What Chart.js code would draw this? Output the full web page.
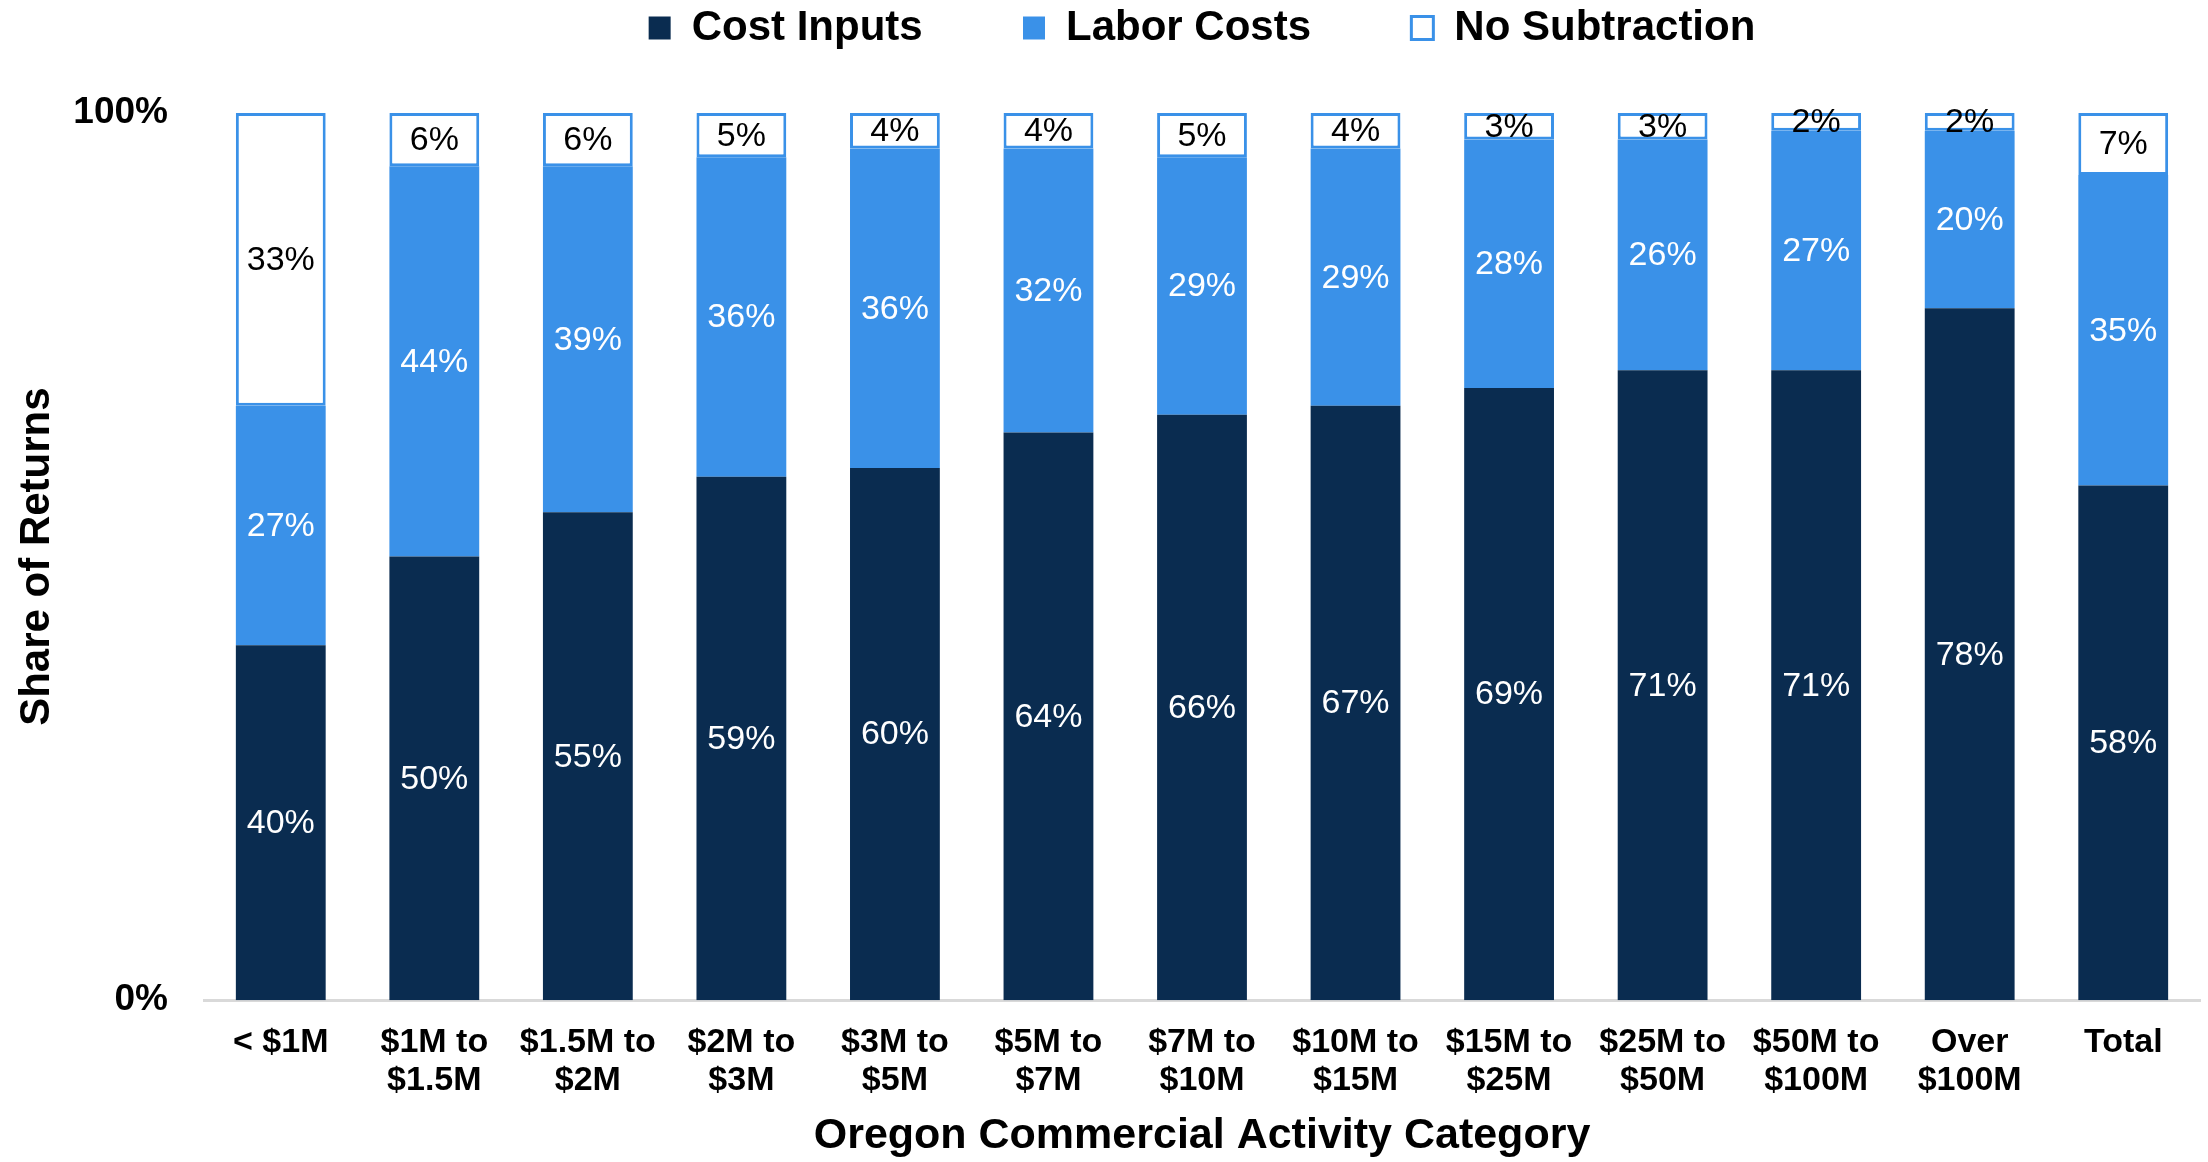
<!DOCTYPE html>
<html>
<head>
<meta charset="utf-8">
<script src="https://cdn.jsdelivr.net/npm/chart.js@4/dist/chart.umd.min.js"></script>
<style>
    body { margin: 0; background: #ffffff; }
    #wrap { width: 2208px; height: 1162px; }
</style>
</head>
<body>
<div id="wrap"><canvas id="shareChart" width="2208" height="1162"></canvas></div>
<script>
const categories = [
    '< $1M', ['$1M to', '$1.5M'], ['$1.5M to', '$2M'], ['$2M to', '$3M'], ['$3M to', '$5M'],
    ['$5M to', '$7M'], ['$7M to', '$10M'], ['$10M to', '$15M'], ['$15M to', '$25M'],
    ['$25M to', '$50M'], ['$50M to', '$100M'], ['Over', '$100M'], 'Total'
];
const costInputs = [40, 50, 55, 59, 60, 64, 66, 67, 69, 71, 71, 78, 58];
const laborCosts = [27, 44, 39, 36, 36, 32, 29, 29, 28, 26, 27, 20, 35];
const noSubtraction = [33, 6, 6, 5, 4, 4, 5, 4, 3, 3, 2, 2, 7];
const yTicks = [0, 100];

const FONT = "'Liberation Sans', Arial, sans-serif";
const NAVY = '#0a2c50';
const BLUE = '#3a91e8';
const PLOT_TOP = 113;

// draws the % value in the middle of every bar segment
const segmentLabels = {
    id: 'segmentLabels',
    afterDatasetsDraw(chart) {
        const ctx = chart.ctx;
        ctx.save();
        ctx.font = '34px ' + FONT;
        ctx.textAlign = 'center';
        ctx.textBaseline = 'middle';
        chart.data.datasets.forEach((ds, i) => {
            const meta = chart.getDatasetMeta(i);
            meta.data.forEach((bar, j) => {
                const p = bar.getProps(['x', 'y', 'base'], true);
                ctx.fillStyle = ds.labelColor;
                ctx.fillText(ds.data[j] + '%', p.x, (p.y + p.base) / 2 + 1);
            });
        });
        ctx.restore();
    }
};

// keep the legend at the very top, with empty room below it
const legendRoom = {
    id: 'legendRoom',
    beforeLayout(chart) {
        const lg = chart.legend;
        if (lg && !lg._roomPatched) {
            const fit = lg.fit;
            lg.fit = function () {
                fit.call(this);
                this.height = Math.max(this.height, PLOT_TOP);
            };
            lg._roomPatched = true;
        }
    }
};

const ctx = document.getElementById('shareChart').getContext('2d');
new Chart(ctx, {
    type: 'bar',
    data: {
        labels: categories,
        datasets: [{
            label: 'Cost Inputs',
            data: costInputs,
            backgroundColor: NAVY,
            borderWidth: 0,
            labelColor: '#ffffff'
        }, {
            label: 'Labor Costs',
            data: laborCosts,
            backgroundColor: BLUE,
            borderWidth: 0,
            labelColor: '#ffffff'
        }, {
            label: 'No Subtraction',
            data: noSubtraction,
            backgroundColor: '#ffffff',
            borderColor: BLUE,
            borderWidth: 3,
            borderSkipped: false,
            labelColor: '#000000'
        }]
    },
    options: {
        responsive: false,
        animation: false,
        categoryPercentage: 1,
        barPercentage: 0.585,
        layout: { padding: { top: 0, right: 8, left: 0, bottom: 0 } },
        plugins: {
            legend: {
                position: 'top',
                fullSize: false,
                labels: {
                    color: '#000000',
                    boxWidth: 22,
                    boxHeight: 23,
                    padding: 7,
                    font: { family: FONT, size: 42, weight: 'bold' },
                    generateLabels: (chart) => {
                        const items = Chart.defaults.plugins.legend.labels.generateLabels(chart);
                        // extra room between the legend entries
                        items.forEach((it, k) => {
                            if (k < items.length - 1) it.text += '        ';
                        });
                        return items;
                    }
                }
            },
            tooltip: { enabled: false }
        },
        scales: {
            x: {
                stacked: true,
                grid: { display: false },
                border: { display: true, color: '#d9d9d9', width: 3 },
                ticks: {
                    color: '#000000',
                    padding: 16,
                    maxRotation: 0,
                    autoSkip: false,
                    font: { family: FONT, size: 34, weight: 'bold', lineHeight: 1.1 }
                },
                title: {
                    display: true,
                    text: 'Oregon Commercial Activity Category',
                    color: '#000000',
                    padding: { top: 0, bottom: 4 },
                    font: { family: FONT, size: 43, weight: 'bold', lineHeight: 1.0 }
                }
            },
            y: {
                stacked: true,
                min: 0,
                max: 100,
                afterBuildTicks: (scale) => {
                    scale.ticks = yTicks.map(v => ({ value: v }));
                },
                afterFit: (scale) => {
                    scale.width = 204;
                    scale.paddingTop = PLOT_TOP;
                },
                grid: { display: false },
                border: { display: false },
                ticks: {
                    color: '#000000',
                    padding: 28,
                    callback: (v) => v + '%',
                    font: { family: FONT, size: 37, weight: 'bold' }
                },
                title: {
                    display: true,
                    text: 'Share of Returns',
                    color: '#000000',
                    padding: { top: 12, bottom: 0 },
                    font: { family: FONT, size: 42, weight: 'bold' }
                }
            }
        }
    },
    plugins: [segmentLabels, legendRoom]
});
</script>
</body>
</html>
